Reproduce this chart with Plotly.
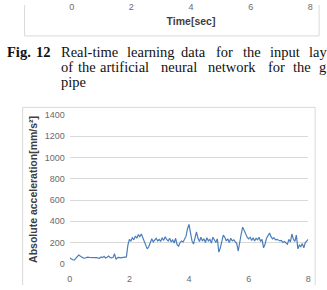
import plotly.graph_objects as go

W, H = 327, 290

# ---- data ----
time_step = 0.05
accel = [
    55, 45, 38, 35, 48, 70, 82, 72, 60, 55, 52, 58, 62, 60, 58, 57, 55, 57, 58, 55,
    52, 65, 58, 70, 55, 62, 72, 60, 55, 58, 95, 42, 58, 60, 55, 58, 62, 60, 65, 175,
    230, 215, 245, 225, 260, 240, 275, 255, 280, 245, 215, 180, 140, 160, 210, 235, 205, 225, 240, 215,
    230, 210, 245, 220, 255, 230, 215, 240, 205, 225, 195, 240, 180, 165, 200, 215, 205, 230, 260, 330,
    370, 290, 215, 185, 260, 300, 240, 210, 250, 215, 235, 200, 245, 215, 230, 195, 250, 225, 200, 235,
    110, 150, 215, 270, 250, 215, 235, 200, 240, 215, 225, 205, 190, 120, 220, 280, 345, 310, 290, 250,
    235, 250, 220, 245, 215, 240, 225, 250, 210, 230, 150, 185, 240, 270, 290, 255, 235, 245, 225, 230,
    225, 215, 220, 200, 210, 195, 185, 230, 205, 280, 230, 210, 270, 140, 175, 160, 190, 150, 200, 215, 230,
]
t = [round(i * time_step, 2) for i in range(len(accel))]

x_ticks = [0, 2, 4, 6, 8]
y_ticks = [0, 200, 400, 600, 800, 1000, 1200, 1400]

caption_line1 = [("Fig.", 2, True), ("12", 32, True), ("Real-time", 57, False), ("learning", 124, False),
                 ("data", 179, False), ("for", 215, False), ("the", 242, False), ("input", 270, False),
                 ("lay", 310, False)]
caption_line2 = [("of", 57), ("the", 74), ("artificial", 97), ("neural", 159), ("network", 207),
                 ("for", 268), ("the", 293), ("g", 320)]
caption_line3 = [("pipe", 57)]


def px(xp):
    return xp / W


def py(yp):
    return 1 - yp / H


tick_font = dict(family="Liberation Sans", size=9, color="#6b6b6b")
title_font = dict(family="Liberation Sans", size=10.5, color="#404040")
serif = "Liberation Serif"
cap_font = dict(family=serif, size=14.5, color="#111")

fig = go.Figure()
fig.add_trace(go.Scatter(x=t, y=accel, mode="lines",
                         line=dict(color="#4a7ebb", width=1.2), showlegend=False,
                         xaxis="x", yaxis="y"))
# invisible trace for the cropped upper chart axis
fig.add_trace(go.Scatter(x=[0, 8], y=[0, 1], mode="lines", line=dict(width=0),
                         showlegend=False, hoverinfo="skip", xaxis="x2", yaxis="y2"))

shapes = [
    dict(type="path", xref="paper", yref="paper",
         path=f"M {px(22)},{py(0)} L {px(22)},{py(32)} L {px(322)},{py(32)} L {px(322)},{py(0)}",
         line=dict(color="#d9d9d9", width=1)),
    dict(type="path", xref="paper", yref="paper",
         path=f"M {px(20)},{py(290)} L {px(20)},{py(106)} L {px(318)},{py(106)} L {px(318)},{py(290)}",
         line=dict(color="#d9d9d9", width=1)),
]

annotations = []
for word, xp, bold in caption_line1:
    annotations.append(dict(text=f"<b>{word}</b>" if bold else word, x=px(xp), y=py(49),
                            xref="paper", yref="paper", xanchor="left", yanchor="middle",
                            showarrow=False, font=cap_font))
for word, xp in caption_line2:
    annotations.append(dict(text=word, x=px(xp), y=py(64.5), xref="paper", yref="paper",
                            xanchor="left", yanchor="middle", showarrow=False, font=cap_font))
for word, xp in caption_line3:
    annotations.append(dict(text=word, x=px(xp), y=py(80), xref="paper", yref="paper",
                            xanchor="left", yanchor="middle", showarrow=False, font=cap_font))

fig.update_layout(
    width=W, height=H, margin=dict(l=0, r=0, t=0, b=0),
    paper_bgcolor="white", plot_bgcolor="white",
    xaxis=dict(domain=[px(68), px(311)], range=[0, 8], tickvals=x_ticks,
               showgrid=False, zeroline=False, showline=False, ticks="",
               tickfont=tick_font, anchor="y", ticklabelstandoff=8),
    yaxis=dict(domain=[py(268), py(114)], range=[0, 1400], tickvals=y_ticks,
               showgrid=True, gridcolor="#d9d9d9", gridwidth=1, zeroline=False,
               showline=False, ticks="", tickfont=tick_font, anchor="x",
               ticklabelstandoff=4,
               title=dict(text="<b>Absolute acceleration[mm/s²]</b>", font=title_font, standoff=5)),
    xaxis2=dict(domain=[px(70), px(313)], range=[0, 8], tickvals=x_ticks,
                showgrid=False, zeroline=False, showline=False, ticks="",
                tickfont=tick_font, anchor="y2", ticklabelstandoff=-5,
                title=dict(text="<b>Time[sec]</b>", font=title_font, standoff=6)),
    yaxis2=dict(domain=[0.999, 1.0], range=[0, 1], visible=False, anchor="x2"),
    shapes=shapes, annotations=annotations,
)

fig.write_html("out.html")
